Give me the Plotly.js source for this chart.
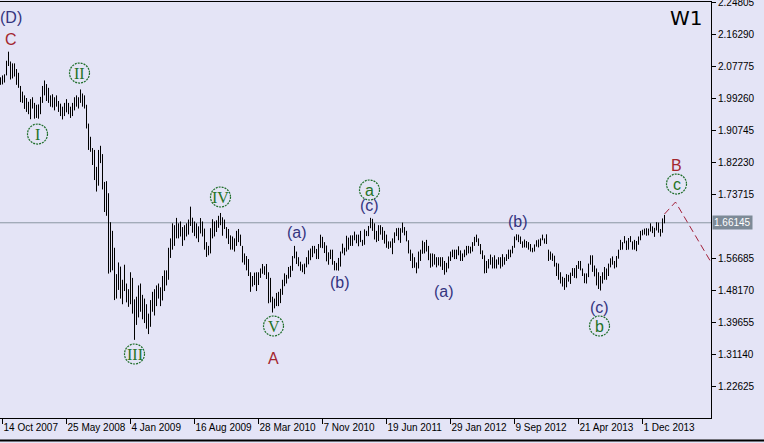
<!DOCTYPE html>
<html>
<head>
<meta charset="utf-8">
<script src="https://cdn.plot.ly/plotly-3.0.1.min.js"></script>
<style>
html,body{margin:0;padding:0;background:#E4E4F6;}
#chart{width:764px;height:443px;}
</style>
</head>
<body>
<div id="chart"></div>
<script>
// Weekly GBP/USD bars (W1), first bar = week of 7 Oct 2007
const firstBarWeekOffset = -1; // weeks relative to 14 Oct 2007

const highs = [
  2.0480,2.0530,2.0560,2.0920,2.1161,2.0900,2.0850,2.0850,2.0700,2.0600, // -1..8
  2.0250,2.0100,2.0000,1.9930,1.9830,1.9900,1.9950,1.9800,1.9750,1.9760, // 9..18
  1.9960,2.0250,2.0396,2.0300,2.0200,2.0000,2.0030,1.9950,2.0000,1.9850, // 19..28
  1.9780,1.9700,1.9800,1.9900,1.9800,1.9700,1.9800,1.9950,2.0000,1.9950, // 29..38
  2.0157,2.0050,2.0000,1.9750,1.9250,1.8900,1.8600,1.8550,1.8100,1.8550, // 39..48
  1.8660,1.8440,1.7700,1.7720,1.7400,1.6630,1.6400,1.5950,1.5250,1.5560, // 49..58
  1.5450,1.5100,1.5500,1.5000,1.4850,1.5300,1.5150,1.4580,1.4650,1.4950, // 59..68
  1.5000,1.4700,1.4600,1.4450,1.4200,1.4560,1.4780,1.4850,1.4950,1.5000, // 69..78
  1.4900,1.5200,1.5350,1.5350,1.5950,1.6200,1.6600,1.6550,1.6744,1.6600, // 79..88
  1.6650,1.6500,1.6550,1.6600,1.6700,1.7043,1.6750,1.6650,1.6600,1.6520, // 89..98
  1.6740,1.6650,1.6460,1.6100,1.6000,1.6470,1.6710,1.6650,1.6680,1.6800, // 99..108
  1.6875,1.6760,1.6700,1.6500,1.6450,1.6280,1.6250,1.6200,1.6400,1.6450, // 109..118
  1.6300,1.6000,1.5800,1.5730,1.5650,1.5300,1.5200,1.5290,1.5300,1.5300, // 119..128
  1.5400,1.5520,1.5460,1.5520,1.5300,1.5150,1.4650,1.4600,1.4750,1.4780, // 129..138
  1.4860,1.5100,1.5270,1.5230,1.5440,1.5470,1.5730,1.6000,1.5850,1.5700, // 139..148
  1.5580,1.5510,1.5530,1.5700,1.5880,1.5930,1.6000,1.6000,1.5920,1.6050, // 149..158
  1.6298,1.6240,1.6100,1.6010,1.5830,1.5900,1.5900,1.5600,1.5550,1.5680, // 159..168
  1.5850,1.6060,1.5950,1.6270,1.6220,1.6280,1.6280,1.6380,1.6300,1.6300, // 169..178
  1.6400,1.6160,1.6440,1.6400,1.6530,1.6746,1.6720,1.6600,1.6400,1.6550, // 179..188
  1.6550,1.6500,1.6400,1.6300,1.6120,1.6120,1.6200,1.6360,1.6470,1.6480, // 189..198
  1.6470,1.6618,1.6500,1.6400,1.6150,1.5900,1.5800,1.5700,1.5560,1.5850, // 199..208
  1.5900,1.6140,1.6100,1.6160,1.6000,1.5800,1.5800,1.5780,1.5700,1.5700, // 209..218
  1.5700,1.5700,1.5600,1.5550,1.5720,1.5850,1.5900,1.5900,1.5900,1.5990, // 219..228
  1.5880,1.5800,1.5900,1.6000,1.6000,1.5980,1.6100,1.6240,1.6300,1.6200, // 229..238
  1.6050,1.5880,1.5750,1.5600,1.5650,1.5770,1.5700,1.5750,1.5640,1.5700, // 239..248
  1.5700,1.5780,1.5700,1.5780,1.5900,1.5900,1.6000,1.6250,1.6309,1.6300, // 249..258
  1.6250,1.6120,1.6170,1.6130,1.6100,1.6050,1.5950,1.6040,1.6150,1.6170, // 259..268
  1.6200,1.6300,1.6200,1.6308,1.5900,1.5850,1.5800,1.5740,1.5550,1.5530, // 269..278
  1.5300,1.5180,1.5150,1.5250,1.5230,1.5290,1.5410,1.5410,1.5490,1.5600, // 279..288
  1.5600,1.5400,1.5270,1.5270,1.5530,1.5750,1.5750,1.5480,1.5400,1.5300, // 289..298
  1.5200,1.5300,1.5440,1.5400,1.5530,1.5670,1.5720,1.5600,1.5730,1.5900, // 299..308
  1.6160,1.6100,1.6260,1.6140,1.6210,1.6260,1.6120,1.6160,1.6130,1.6250, // 309..318
  1.6400,1.6430,1.6460,1.6470,1.6460,1.6600,1.6520,1.6480,1.6630,1.6620, // 319..328
  1.6450,1.6730,1.6823                                                   // 329..331
];

const lows = [
  2.0280,2.0290,2.0340,2.0530,2.0780,2.0420,2.0450,2.0500,2.0280,2.0200,
  1.9820,1.9800,1.9640,1.9560,1.9500,1.9366,1.9650,1.9380,1.9400,1.9380,
  1.9500,1.9800,2.0000,1.9850,1.9800,1.9700,1.9680,1.9600,1.9700,1.9560,
  1.9450,1.9360,1.9450,1.9550,1.9500,1.9400,1.9450,1.9600,1.9700,1.9650,
  1.9800,1.9700,1.9650,1.9120,1.8550,1.8500,1.8150,1.7750,1.7444,1.7600,
  1.8200,1.7500,1.6900,1.6800,1.5264,1.5300,1.5350,1.4560,1.4600,1.4830,
  1.4600,1.4450,1.4800,1.4500,1.4380,1.4450,1.4200,1.3503,1.3900,1.4100,
  1.4250,1.4050,1.3950,1.3800,1.3657,1.3850,1.4250,1.4150,1.4400,1.4600,
  1.4400,1.4550,1.4800,1.4950,1.5100,1.5680,1.5900,1.6000,1.6200,1.6200,
  1.6250,1.6000,1.6150,1.6250,1.6300,1.6530,1.6350,1.6260,1.6200,1.6100,
  1.6330,1.6250,1.5900,1.5707,1.5750,1.5800,1.6200,1.6250,1.6370,1.6480,
  1.6550,1.6270,1.6450,1.6200,1.6050,1.5900,1.5900,1.5850,1.6000,1.6100,
  1.6000,1.5560,1.5500,1.5350,1.5200,1.4780,1.4920,1.4960,1.4800,1.4960,
  1.5150,1.5260,1.5230,1.5120,1.4475,1.4500,1.4229,1.4340,1.4400,1.4400,
  1.4480,1.4700,1.4930,1.5000,1.5130,1.5170,1.5340,1.5670,1.5520,1.5460,
  1.5340,1.5300,1.5250,1.5430,1.5510,1.5620,1.5700,1.5800,1.5650,1.5650,
  1.5950,1.5940,1.5810,1.5590,1.5500,1.5650,1.5500,1.5350,1.5350,1.5343,
  1.5450,1.5800,1.5750,1.5850,1.5900,1.6000,1.6000,1.6150,1.6070,1.5990,
  1.6100,1.6000,1.6030,1.6260,1.6260,1.6470,1.6400,1.6170,1.6100,1.6130,
  1.6300,1.6160,1.6060,1.5950,1.5920,1.5950,1.5780,1.6080,1.6260,1.6150,
  1.6080,1.6350,1.6280,1.6120,1.5800,1.5600,1.5410,1.5420,1.5272,1.5400,
  1.5600,1.5790,1.5800,1.5850,1.5620,1.5420,1.5450,1.5500,1.5430,1.5480,
  1.5450,1.5360,1.5234,1.5300,1.5400,1.5600,1.5700,1.5650,1.5650,1.5750,
  1.5600,1.5600,1.5700,1.5750,1.5800,1.5800,1.5850,1.6000,1.6100,1.6000,
  1.5780,1.5650,1.5270,1.5280,1.5400,1.5500,1.5400,1.5400,1.5400,1.5500,
  1.5400,1.5450,1.5500,1.5600,1.5650,1.5700,1.5800,1.5950,1.6150,1.6100,
  1.6050,1.5950,1.5960,1.5950,1.5900,1.5850,1.5830,1.5850,1.5980,1.5960,
  1.6000,1.6150,1.6060,1.6050,1.5600,1.5630,1.5600,1.5450,1.5200,1.5100,
  1.5000,1.4920,1.4831,1.4900,1.5050,1.4990,1.5200,1.5150,1.5140,1.5390,
  1.5350,1.5200,1.5010,1.5000,1.5170,1.5500,1.5310,1.5190,1.4950,1.4855,
  1.4814,1.5000,1.5100,1.5100,1.5200,1.5430,1.5500,1.5400,1.5430,1.5660,
  1.5890,1.5900,1.6070,1.5890,1.5900,1.6100,1.5900,1.5900,1.5860,1.6030,
  1.6150,1.6280,1.6300,1.6270,1.6280,1.6380,1.6340,1.6240,1.6410,1.6350,
  1.6250,1.6350,1.6600
];

// x-axis tick labels (MT4 style)
const dateTicks = ['2007-10-14','2008-05-25','2009-01-04','2009-08-16','2010-03-28','2010-11-07',
                   '2011-06-19','2012-01-29','2012-09-09','2013-04-21','2013-12-01'];
const dateTickText = ['14 Oct 2007','25 May 2008','4 Jan 2009','16 Aug 2009','28 Mar 2010','7 Nov 2010',
                      '19 Jun 2011','29 Jan 2012','9 Sep 2012','21 Apr 2013','1 Dec 2013'];

// price scale labels (the 1.65200 level is covered by the current-price box)
const priceTicks = [1.22625,1.31140,1.39655,1.48170,1.56685,1.73715,1.82230,1.90745,1.99260,2.07775,2.16290,2.24805];

const currentPrice = 1.66145;

// projected path (week index relative to 14 Oct 2007, price)
const projWeeks = [331, 336.5, 354.5];
const projPrices = [1.6847, 1.7166, 1.5545];

// wave labels
const waveText  = ['(D)','C','I','II','III','IV','V','A','(a)','(b)','(c)','a','(a)','(b)','(c)','b','c','B'];
const waveWeek  = [4,4,17.5,38.5,66,109,135.5,135.5,147,168.5,183.5,183.5,220.5,257.5,298.5,298.5,337,337];
const wavePrice = [2.2081,2.1496,1.8972,2.0593,1.3127,1.7299,1.3871,1.3021,1.6369,1.5040,1.7086,1.7485,1.4801,1.6661,1.4376,1.3871,1.7644,1.8149];
const waveKind  = ['navy','red','roman','roman','roman','roman','roman','red','navy','navy','navy','letter','navy','navy','navy','letter','letter','red'];

function wkDate(w){
  const t = Date.UTC(2007,9,14) + w*7*86400000;
  return new Date(t).toISOString().replace('T',' ').slice(0,19);
}

const xs = [], ys = [];
for(let i=0;i<highs.length;i++){
  const d = wkDate(i + firstBarWeekOffset);
  xs.push(d,d,null);
  ys.push(lows[i],highs[i],null);
}

const barsTrace = {
  type:'scatter', mode:'lines', x:xs, y:ys,
  line:{color:'#000000', width:1}, hoverinfo:'skip', showlegend:false, connectgaps:false
};
const projTrace = {
  type:'scatter', mode:'lines',
  x: projWeeks.map(wkDate), y: projPrices,
  line:{color:'#A3213A', width:1, dash:'7px,4px'}, hoverinfo:'skip', showlegend:false
};

const NAVY='#34347F', RED='#A3262E', GREEN='#267326';
const annotations = [];
const shapes = [];
for(let i=0;i<waveText.length;i++){
  const k = waveKind[i];
  let font;
  if(k==='navy') font={family:'Liberation Sans, Arial, sans-serif', size:16, color:NAVY};
  else if(k==='red') font={family:'Liberation Sans, Arial, sans-serif', size:16, color:RED};
  else if(k==='roman') font={family:'Liberation Serif, Times New Roman, serif', size:16, color:GREEN};
  else font={family:'Liberation Sans, Arial, sans-serif', size:16, color:GREEN};
  annotations.push({x:wkDate(waveWeek[i]), y:wavePrice[i], xref:'x', yref:'y', text:waveText[i],
    showarrow:false, xanchor:'center', yanchor:'middle', font:font});
  if(k==='roman' || k==='letter'){
    shapes.push({type:'circle', xref:'x', yref:'y', xsizemode:'pixel', ysizemode:'pixel',
      xanchor:wkDate(waveWeek[i]), yanchor:wavePrice[i], x0:-10, x1:10, y0:-10, y1:10,
      line:{color:'#1E6E2A', width:1.2, dash:'2px,1px'}, fillcolor:'rgba(0,0,0,0)', layer:'above'});
  }
}

// current price line + label
shapes.push({type:'line', xref:'paper', yref:'y', x0:0, x1:1, y0:currentPrice, y1:currentPrice,
  line:{color:'#8A96A3', width:1}, layer:'below'});
annotations.push({xref:'paper', yref:'y', x:1, y:currentPrice, xanchor:'left', yanchor:'middle', xshift:1,
  text:currentPrice.toFixed(5), showarrow:false, bgcolor:'#7D8A97', borderpad:1,
  font:{family:'Liberation Sans, Arial, sans-serif', size:10, color:'#FFFFFF'}});
// timeframe label
annotations.push({xref:'paper', yref:'paper', x:705/711, y:(418-18)/416, xanchor:'right', yanchor:'middle',
  text:'W1', showarrow:false, font:{family:'DejaVu Sans, sans-serif', size:20, color:'#000000'}});
// window frame line at bottom
shapes.push({type:'line', xref:'paper', yref:'paper', x0:-0.01, x1:1.08, y0:-0.0541, y1:-0.0541,
  line:{color:'#000000', width:2}});

const axisFont = {family:'Liberation Sans, Arial, sans-serif', size:10, color:'#000000'};

const layout = {
  width:764, height:443,
  margin:{l:0, r:53, t:2, b:25, pad:0},
  paper_bgcolor:'#E4E4F6', plot_bgcolor:'#E4E4F6',
  showlegend:false,
  xaxis:{type:'date', range:[wkDate(-1.25), wkDate(354.25)],
    tickmode:'array', tickvals:dateTicks, ticktext:dateTickText, tickangle:0,
    ticks:'outside', ticklen:5, tickcolor:'#000000', tickwidth:1,
    ticklabelposition:'outside right', ticklabeloverflow:'allow',
    showline:true, linecolor:'#000000', linewidth:1, mirror:true,
    showgrid:false, zeroline:false, tickfont:axisFont, fixedrange:true, automargin:false},
  yaxis:{range:[1.1427, 2.2481], side:'right',
    tickmode:'array', tickvals:priceTicks, ticktext:priceTicks.map(v=>v.toFixed(5)),
    ticks:'outside', ticklen:4, tickcolor:'#000000', tickwidth:1, ticklabeloverflow:'allow',
    showline:true, linecolor:'#000000', linewidth:1,
    showgrid:false, zeroline:false, tickfont:axisFont, fixedrange:true, automargin:false},
  shapes:shapes,
  annotations:annotations
};

Plotly.newPlot('chart', [barsTrace, projTrace], layout, {displayModeBar:false, staticPlot:true});
</script>
</body>
</html>
